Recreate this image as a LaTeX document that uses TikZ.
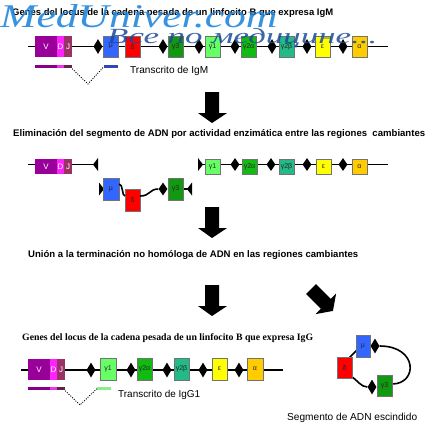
\documentclass[tikz,border=0pt]{standalone}
\usepackage{fontspec}
\setmainfont{Liberation Sans}
\newfontfamily\wmserif{Liberation Serif}
\usetikzlibrary{shapes.geometric}
\definecolor{cV}{HTML}{990099}
\definecolor{cD}{HTML}{FF22FF}
\definecolor{cJ}{HTML}{993366}
\definecolor{cmu}{HTML}{3366FF}
\definecolor{cdelta}{HTML}{FF0000}
\definecolor{cgthree}{HTML}{119911}
\definecolor{cgone}{HTML}{66FF66}
\definecolor{cgta}{HTML}{11BB11}
\definecolor{cgtb}{HTML}{22BB88}
\definecolor{ceps}{HTML}{FFFF00}
\definecolor{calpha}{HTML}{FFCC00}
\definecolor{bV}{HTML}{880088}
\definecolor{bD}{HTML}{EE33EE}
\definecolor{bJ}{HTML}{662244}
\definecolor{bmu}{HTML}{3344BB}
\definecolor{bgone}{HTML}{88EE88}
\definecolor{wmA}{HTML}{2288DD}
\definecolor{wmB}{HTML}{1A4A99}
\newcommand\fitw[2]{\resizebox{#1pt}{!}{#2}}
\tikzset{
  locus/.style={line width=1.6pt, black},
  gene/.style={rectangle, draw=black!55, line width=0.3pt, inner sep=0pt, text=black!85,
    font=\fontsize{7}{8}\selectfont},
  vdj/.style={gene, draw=none, text=white, font=\fontsize{8}{9}\selectfont},
  sw/.style={diamond, fill=black, inner sep=0pt, minimum width=9pt, minimum height=15pt},
  swsmall/.style={sw, minimum height=13pt},
  bar/.style={rectangle, inner sep=0pt, minimum height=3pt},
  dots/.style={line width=0.9pt, dash pattern=on 1pt off 1.4pt},
  lbl/.style={inner sep=0pt, anchor=west},
  bigarrow/.style={fill=black}
}
\begin{document}
\begin{tikzpicture}[x=1pt,y=-1pt]
\useasboundingbox (0,0) rectangle (433,429);
\fill[white] (0,0) rectangle (433,429);

% ---------- Row 1 ----------
\node[lbl] (t1) at (12,13) {\fitw{321}{\bfseries Genes del locus de la cadena pesada de un linfocito B que expresa IgM}};
\coordinate (r1s) at (28,46.5);
\coordinate (r1e) at (388,46.5);
\draw[locus] (r1s) -- (r1e);
\begin{scope}[every node/.append style={minimum height=21pt}]
\node[vdj, fill=cV, minimum width=22pt] (V1) at (46,46.5) {V};
\node[vdj, fill=cD, minimum width=7pt] (D1) at (60.5,46.5) {D};
\node[vdj, fill=cJ, minimum width=8pt] (J1) at (68,46.5) {J};
\node[gene, fill=cmu, minimum width=15pt] (mu1) at (111,46.5) {μ};
\node[gene, fill=cdelta, minimum width=15pt] (de1) at (132.5,46.5) {δ};
\node[gene, fill=cgthree, minimum width=15pt] (g31) at (175.5,46.5) {γ3};
\node[gene, fill=cgone, minimum width=15pt] (g11) at (212.5,46.5) {γ1};
\node[gene, fill=cgta, minimum width=15pt] (gta1) at (248.5,46.5) {γ2α};
\node[gene, fill=cgtb, minimum width=15pt] (gtb1) at (286.5,46.5) {γ2β};
\node[gene, fill=ceps, minimum width=15pt] (ep1) at (322.5,46.5) {ε};
\node[gene, fill=calpha, minimum width=15pt] (al1) at (359.5,46.5) {α};
\end{scope}
\foreach \x/\n in {98/a,163/b,199/c,235/d,272/e,307/f,343/g}
  \node[sw] (s1\n) at (\x,46.5) {};
% transcript IgM
\node[bar, fill=bV, minimum width=22pt] (bV1) at (46,66) {};
\node[bar, fill=bD, minimum width=7pt] (bD1) at (60.5,66) {};
\node[bar, fill=bJ, minimum width=8pt] (bJ1) at (68,66) {};
\node[bar, fill=bmu, minimum width=14pt] (bmu1) at (111,66) {};
\coordinate (dip1) at (88,84);
\draw[dots] (bJ1.south east) ++(0,1) -- (dip1) -- ([yshift=1pt]bmu1.south west);
\node[lbl] (tr1) at (130,71) {\fitw{78}{Transcrito de IgM}};

% watermark
\node[lbl, anchor=base west, text=wmA, opacity=0.9] (wm1) at (0,27) {\resizebox{277pt}{23pt}{\wmserif\itshape MedUniver.com}};
\node[lbl, anchor=base west, text=wmB, opacity=0.85] (wm2) at (107,43) {\resizebox{270pt}{15pt}{\wmserif\itshape Все по медицине...}};

% arrow 1
\fill[bigarrow] (205,92) -- (219,92) -- (219,113) -- (227,113) -- (212,123) -- (198,113) -- (205,113) -- cycle;

% ---------- Row 2 ----------
\node[lbl] (t2) at (13,134) {\fitw{412}{\bfseries Eliminación del segmento de ADN por actividad enzimática entre las regiones\ \ cambiantes}};
\coordinate (r2s) at (28,164.5);
\coordinate (hd1) at (98,164.5);
\coordinate (hd2) at (198,164.5);
\coordinate (r2e) at (388,164.5);
\draw[locus] (r2s) -- (hd1);
\draw[locus] (hd2) -- (r2e);
\fill (hd1) ++(0,-6.5) -- ++(-5,6.5) -- ++(5,6.5) -- cycle;
\fill (hd2) ++(0,-6.5) -- ++(5,6.5) -- ++(-5,6.5) -- cycle;
\begin{scope}[every node/.append style={minimum height=15pt}]
\node[vdj, fill=cV, minimum width=22pt] (V2) at (46,166.5) {V};
\node[vdj, fill=cD, minimum width=7pt] (D2) at (60.5,166.5) {D};
\node[vdj, fill=cJ, minimum width=8pt] (J2) at (68,166.5) {J};
\node[gene, fill=cgone, minimum width=15pt] (g12) at (212.5,166.5) {γ1};
\node[gene, fill=cgta, minimum width=15pt] (gta2) at (249.5,166.5) {γ2α};
\node[gene, fill=cgtb, minimum width=15pt] (gtb2) at (286.5,166.5) {γ2β};
\node[gene, fill=ceps, minimum width=15pt] (ep2) at (323.5,166.5) {ε};
\node[gene, fill=calpha, minimum width=15pt] (al2) at (359.5,166.5) {α};
\end{scope}
\foreach \x/\n in {235/a,271/b,307/c,343/d}
  \node[swsmall] (s2\n) at (\x,164.5) {};
% excised loop (row 2)
\coordinate (hd3) at (99,189);
\coordinate (hd4) at (192,189);
\fill (hd3) ++(0,-6.5) -- ++(5,6.5) -- ++(-5,6.5) -- cycle;
\fill (hd4) ++(0,-6.5) -- ++(-5,6.5) -- ++(5,6.5) -- cycle;
\node[swsmall] (s2x) at (163,189) {};
\draw[locus] (s2x.east) -- ++(5,0) coordinate (g3a) -- (hd4);
\node[gene, fill=cmu, minimum width=16pt, minimum height=22pt] (mu2) at (111,189) {μ};
\node[gene, fill=cdelta, minimum width=15pt, minimum height=22pt] (de2) at (132.5,200) {δ};
\node[gene, fill=cgthree, minimum width=15pt, minimum height=22pt] (g32) at (175.5,189) {γ3};
\draw[locus] ([yshift=5pt]mu2.east) .. controls +(4,0) and +(-3,0) .. ([yshift=4pt]de2.west);
\draw[locus] ([yshift=4pt]de2.east) .. controls +(10,0) and +(-9,0) .. (s2x.west);

% arrow 2
\fill[bigarrow] (205,207) -- (219,207) -- (219,228) -- (227,228) -- (212,238) -- (198,228) -- (205,228) -- cycle;

% ---------- Row 3 ----------
\node[lbl] (t3) at (28,255) {\fitw{330}{\bfseries Unión a la terminación no homóloga de ADN en las regiones cambiantes}};
\fill[bigarrow] (205,285) -- (219,285) -- (219,306) -- (227,306) -- (212,316) -- (198,306) -- (205,306) -- cycle;
\fill[bigarrow, shift={(311,289)}, rotate=45] (-7,0) -- (7,0) -- (7,21) -- (14.5,21) -- (0,31) -- (-14.5,21) -- (-7,21) -- cycle;

% ---------- Row 4 ----------
\node[lbl] (t4) at (22,338) {\fitw{291}{\wmserif\bfseries Genes del locus de la cadena pesada de un linfocito B que expresa IgG}};
\coordinate (r4s) at (21,370);
\coordinate (r4e) at (283,370);
\draw[locus] (r4s) -- (r4e);
\begin{scope}[every node/.append style={minimum height=21pt}]
\node[vdj, fill=cV, minimum width=22pt] (V4) at (39,369.5) {V};
\node[vdj, fill=cD, minimum width=7pt] (D4) at (53.5,369.5) {D};
\node[vdj, fill=cJ, minimum width=8pt] (J4) at (61,369.5) {J};
\end{scope}
\begin{scope}[every node/.append style={minimum height=22pt}]
\node[gene, fill=cgone, minimum width=16pt] (g14) at (108,369) {γ1};
\node[gene, fill=cgta, minimum width=15pt] (gta4) at (144.5,369) {γ2α};
\node[gene, fill=cgtb, minimum width=15pt] (gtb4) at (181.5,369) {γ2β};
\node[gene, fill=ceps, minimum width=15pt] (ep4) at (219.5,369) {ε};
\node[gene, fill=calpha, minimum width=16pt] (al4) at (255,369) {α};
\end{scope}
\foreach \x/\n in {91/a,131/b,167/c,203/d,239/e}
  \node[sw] (s4\n) at (\x,370) {};
% transcript IgG1
\node[bar, fill=bV, minimum width=22pt] (bV4) at (39,388) {};
\node[bar, fill=bD, minimum width=7pt] (bD4) at (53.5,388) {};
\node[bar, fill=bJ, minimum width=8pt] (bJ4) at (61,388) {};
\node[bar, fill=bgone, minimum width=14pt] (bg4) at (104,388) {};
\coordinate (dip4) at (80,405);
\draw[dots] (bJ4.south east) ++(0,1) -- (dip4) -- ([yshift=1pt]bg4.south west);
\node[lbl] (tr4) at (118,395) {\fitw{82}{Transcrito de IgG1}};

% excised circle
\node[sw] (sc1) at (375,346) {};
\node[sw] (sc2) at (372,387) {};
\draw[locus] (sc1.east) .. controls (418,346) and (418,384) .. (392,384);
\draw[locus] (351,376) .. controls (357,380) and (361,387) .. (sc2.west);
\draw[locus] (349,358) -- (357,350);
\node[gene, fill=cmu, minimum width=14pt, minimum height=22pt] (muc) at (363,346) {μ};
\node[gene, fill=cdelta, minimum width=15pt, minimum height=21pt] (dec) at (344.5,367.5) {δ};
\node[gene, fill=cgthree, minimum width=15pt, minimum height=21pt] (g3c) at (384.5,385.5) {γ3};
\node[lbl] (tsc) at (287,418) {\fitw{130}{Segmento de ADN escindido}};
\end{tikzpicture}
\end{document}
